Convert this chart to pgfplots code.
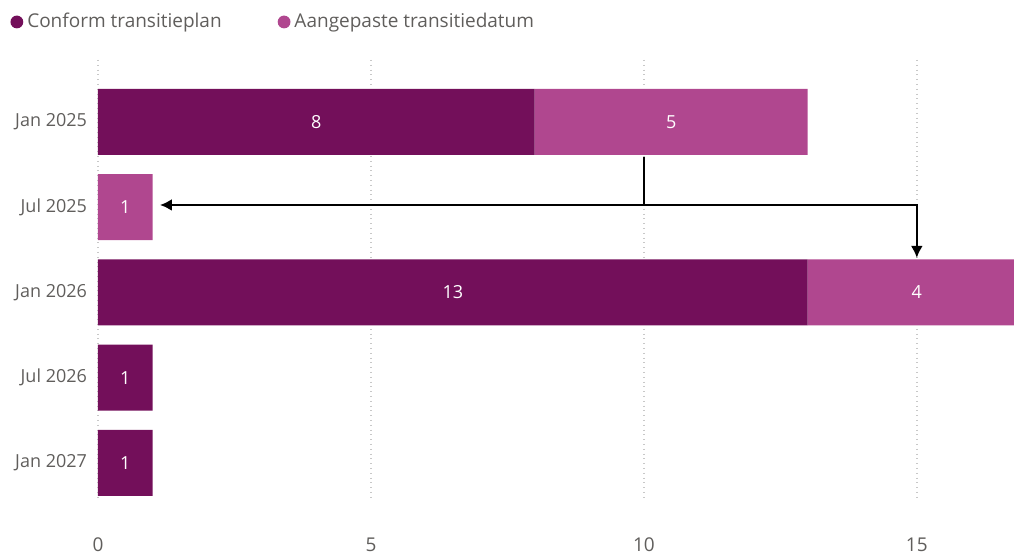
\documentclass[border=0pt]{standalone}
\usepackage{fontspec}
\setmainfont{Open Sans}
\usepackage{pgfplots}
\pgfplotsset{compat=1.18}
\usetikzlibrary{arrows.meta}
\definecolor{darkp}{HTML}{730F5A}
\definecolor{lightp}{HTML}{B0478F}
\definecolor{txtgray}{HTML}{605E5C}
\definecolor{gridgray}{HTML}{C8C8C8}
\begin{document}
\begin{tikzpicture}
\useasboundingbox (0pt,0pt) rectangle (507pt,278pt);
\pgfplotsset{commonax/.style={
  at={(49pt,29.5pt)}, anchor=south west, scale only axis,
  width=458pt, height=218.5pt,
  xmin=0, xmax=16.78, ymin=-0.727, ymax=4.4, y dir=reverse}}
\begin{axis}[commonax,
  xbar stacked, bar width=0.774,
  ytick={0,1,2,3,4},
  yticklabels={Jan 2025,Jul 2025,Jan 2026,Jul 2026,Jan 2027},
  xtick={0,5,10,15},
  /pgf/number format/assume math mode=true,
  axis line style={draw=none}, major tick length=0pt,
  xmajorgrids, grid style={gridgray, dotted, line width=0.7pt},
  xticklabel style={text=txtgray, font=\fontsize{9.5}{11}\selectfont, yshift=-17pt},
  yticklabel style={text=txtgray, font=\fontsize{9}{11}\selectfont, xshift=-2pt},
  legend style={at={(-0.096,1.087)}, anchor=west, draw=none, fill=none,
    legend columns=2, font=\fontsize{9.5}{11}\selectfont, text=txtgray,
    inner sep=0pt,
    /tikz/every even column/.append style={column sep=26pt}},
  legend image code/.code={\fill[#1] (0pt,0pt) circle (3.2pt);},
]
\addplot[fill=darkp, draw=none] coordinates {(8,0) (0,1) (13,2) (1,3) (1,4)};
\addplot[fill=lightp, draw=none] coordinates {(5,0) (1,1) (4,2) (0,3) (0,4)};
\legend{Conform transitieplan, Aangepaste transitiedatum}
\end{axis}
\begin{axis}[commonax, hide axis, clip=false]
\addplot[draw=none, mark=none, nodes near coords, point meta=explicit symbolic,
  nodes near coords style={anchor=center, text=white, font=\fontsize{9}{11}\selectfont}]
  coordinates {(4,0)[8] (10.5,0)[5] (0.5,1)[1] (6.5,2)[13] (15,2)[4] (0.5,3)[1] (0.5,4)[1]};
\draw[line width=1.1pt] (axis cs:10,0.41) -- (axis cs:10,0.974);
\draw[line width=1.1pt, -{Latex[length=6pt,width=6pt]}] (axis cs:10,0.974) -- (axis cs:1.135,0.974);
\draw[line width=1.1pt, -{Latex[length=6pt,width=6pt]}] (axis cs:10,0.974) -- (axis cs:15,0.974) -- (axis cs:15,1.595);
\end{axis}
\end{tikzpicture}
\end{document}
